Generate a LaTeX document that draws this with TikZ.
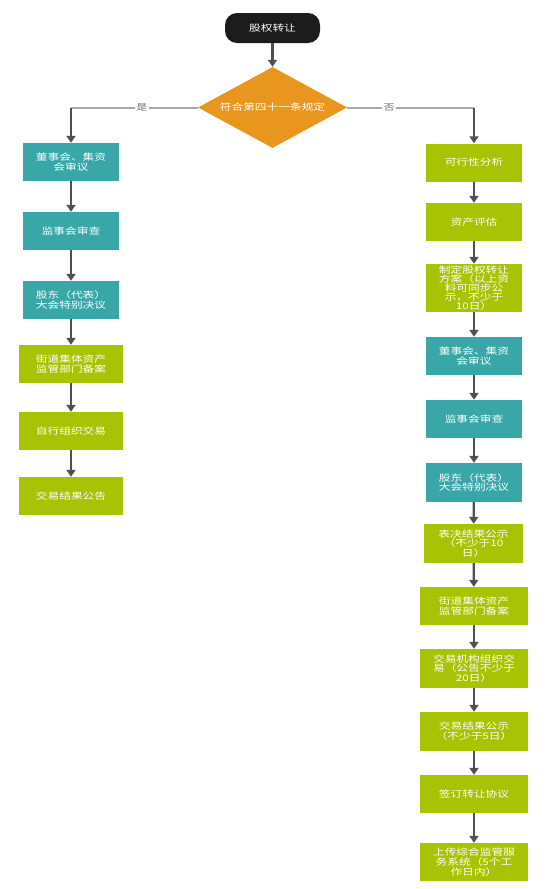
\documentclass[tikz,border=0pt]{standalone}
\usepackage{fontspec}
\newfontfamily\cjk[FakeStretch=1.3]{Noto Sans CJK SC}
\usetikzlibrary{shapes.geometric,arrows.meta}
\definecolor{teal1}{HTML}{39A6A8}
\definecolor{green1}{HTML}{A8C304}
\definecolor{orange1}{HTML}{E8961E}
\definecolor{term}{HTML}{1C1C1C}
\definecolor{conn}{HTML}{505050}
\definecolor{hconn}{HTML}{A8A8A8}
\tikzset{
  box/.style={rectangle, inner sep=0pt, text=white, align=center,
    font=\cjk\fontsize{9}{9.8}\selectfont, minimum height=38pt},
  tbox/.style={box, fill=teal1, minimum width=96pt},
  gbox/.style={box, fill=green1, minimum width=96pt},
  wbox/.style={box, fill=green1, minimum width=104pt},
  xbox/.style={box, fill=green1, minimum width=108pt},
  vline/.style={draw=conn, line width=2.2pt, -{Triangle[width=9pt,length=7pt]}},
  hline/.style={draw=hconn, line width=2pt},
  lab/.style={fill=white, text=black!55, inner sep=1.5pt, font=\cjk\fontsize{8.5}{9}\selectfont}
}
\begin{document}
\begin{tikzpicture}[x=1pt,y=-1pt]
\useasboundingbox (0,0) rectangle (548,889);
\node[rectangle, rounded corners=12pt, fill=term, text=white, minimum width=95pt, minimum height=30pt, inner sep=0pt, font=\cjk\fontsize{9}{9.8}\selectfont] (start) at (272.5,28) {股权转让};
\node[diamond, fill=orange1, text=white, minimum width=149pt, minimum height=81pt, inner sep=0pt, aspect=1.84, font=\cjk\fontsize{9}{9.8}\selectfont] (dec) at (272.5,107.5) {符合第四十一条规定};
% left column
\node[tbox] (L1) at (71,162) {董事会、集资\\会审议};
\node[tbox] (L2) at (71,231) {监事会审查};
\node[tbox] (L3) at (71,300) {股东（代表）\\大会特别决议};
\node[wbox] (L4) at (71,364) {街道集体资产\\监管部门备案};
\node[wbox] (L5) at (71,431) {自行组织交易};
\node[wbox] (L6) at (71,496) {交易结果公告};
% right column
\node[gbox] (R1) at (474,162.5) {可行性分析};
\node[gbox] (R2) at (474,222) {资产评估};
\node[gbox, minimum height=48pt, font=\cjk\fontsize{9}{9}\selectfont] (R3) at (474,288) {制定股权转让\\方案（以上资\\料可同步公\\示，不少于\\10日）};
\node[tbox] (R4) at (474,356) {董事会、集资\\会审议};
\node[tbox] (R5) at (474,419) {监事会审查};
\node[tbox, minimum height=39pt] (R6) at (474,482.5) {股东（代表）\\大会特别决议};
\node[gbox, minimum width=99pt, minimum height=39pt] (R7) at (473.5,543.5) {表决结果公示\\（不少于10\\日）};
\node[xbox] (R8) at (474,606) {街道集体资产\\监管部门备案};
\node[xbox, minimum height=39pt] (R9) at (474,668.5) {交易机构组织交\\易（公告不少于\\20日）};
\node[xbox, minimum height=39pt] (R10) at (474,731.5) {交易结果公示\\（不少于5日）};
\node[xbox] (R11) at (474,794) {签订转让协议};
\node[xbox] (R12) at (474,862) {上传综合监管服\\务系统（5个工\\作日内）};
% connectors
\coordinate (cl) at (71,107.5);
\coordinate (cr) at (474,107.5);
\draw[vline] (start) -- (dec);
\draw[hline] (dec.west) -- node[lab, pos=0.44] (yes) {是} (cl);
\draw[hline] (dec.east) -- node[lab, pos=0.33] (no) {否} (cr);
\draw[vline] (cl) -- (L1);
\draw[vline] (cr) -- (R1);
\foreach \a/\b in {L1/L2,L2/L3,L3/L4,L4/L5,L5/L6,R1/R2,R2/R3,R3/R4,R4/R5,R5/R6,R6/R7,R7/R8,R8/R9,R9/R10,R10/R11,R11/R12}
  \draw[vline] (\a) -- (\b);
\end{tikzpicture}
\end{document}
